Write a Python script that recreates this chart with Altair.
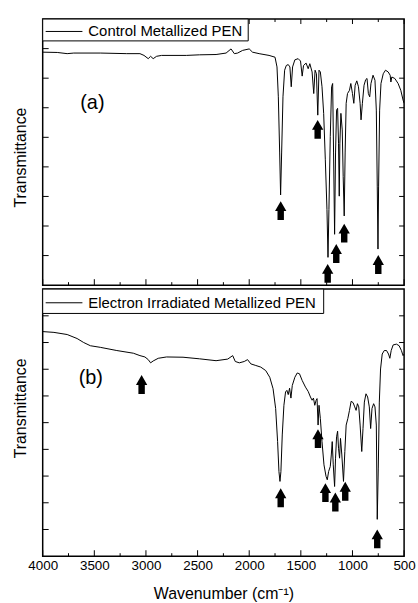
import altair as alt
import pandas as pd

# ---------------- data ----------------
wn_a = [4000, 3859, 3763, 3699, 3442, 3186, 3058, 3019, 2978, 2955, 2930, 2897, 2849, 2609, 2481,
        2321, 2224, 2176, 2144, 2112, 2064, 2000, 1968, 1904, 1808, 1750, 1731, 1718, 1705, 1696,
        1686, 1673, 1657, 1641, 1622, 1606, 1593, 1580, 1558, 1526, 1503, 1487, 1474, 1449, 1429,
        1413, 1391, 1375, 1362, 1349, 1336, 1324, 1311, 1295, 1279, 1263, 1247, 1237, 1228, 1215,
        1202, 1192, 1183, 1173, 1164, 1154, 1144, 1135, 1128, 1122, 1112, 1099, 1090, 1080, 1071,
        1061, 1048, 1029, 1016, 1000, 987, 974, 958, 942, 926, 917, 904, 888, 872, 859, 846, 833,
        821, 801, 782, 769, 760, 753, 747, 737, 724, 702, 680, 654, 635, 628, 619, 590, 558, 532,
        510, 500]
tr_a = [7.88, 7.87, 7.83, 7.85, 7.85, 7.83, 7.83, 7.77, 7.66, 7.74, 7.66, 7.74, 7.77, 7.77, 7.79,
        7.80, 7.85, 7.99, 7.83, 7.85, 7.94, 7.99, 7.88, 7.83, 7.77, 7.71, 7.38, 6.37, 4.47, 3.05,
        4.47, 6.37, 7.27, 7.43, 7.46, 7.38, 6.71, 7.38, 7.62, 7.66, 7.58, 7.07, 7.43, 7.51, 7.32,
        7.49, 7.21, 6.48, 7.27, 7.15, 5.75, 7.27, 7.21, 6.71, 5.81, 4.24, 2.56, 0.94, 2.56, 5.03,
        6.71, 6.82, 4.47, 1.72, 4.47, 5.92, 5.98, 4.80, 3.01, 4.80, 5.81, 5.25, 3.68, 2.34, 4.47,
        6.15, 6.48, 6.59, 6.82, 6.48, 6.15, 6.76, 6.91, 6.71, 6.15, 5.59, 6.15, 6.76, 6.95, 6.99,
        6.48, 6.37, 6.82, 7.10, 6.93, 5.92, 3.35, 1.22, 3.35, 5.92, 6.82, 7.15, 7.27, 7.21, 7.10,
        6.87, 7.04, 6.99, 6.82, 6.59, 6.26, 6.15]

wn_b = [4000, 3891, 3763, 3667, 3603, 3538, 3442, 3282, 3122, 3058, 3010, 2978, 2955, 2930, 2881,
        2801, 2641, 2481, 2321, 2208, 2160, 2135, 2096, 2048, 2016, 1984, 1936, 1888, 1840, 1801,
        1769, 1744, 1725, 1712, 1702, 1693, 1680, 1664, 1648, 1635, 1622, 1609, 1596, 1583, 1558,
        1535, 1513, 1487, 1455, 1429, 1407, 1391, 1378, 1365, 1352, 1343, 1333, 1324, 1311, 1295,
        1276, 1256, 1244, 1231, 1215, 1205, 1196, 1186, 1173, 1164, 1154, 1144, 1135, 1125, 1116,
        1103, 1087, 1074, 1061, 1045, 1029, 1013, 994, 978, 965, 952, 939, 926, 910, 898, 885,
        869, 853, 837, 824, 811, 795, 782, 769, 760, 750, 740, 728, 712, 692, 670, 651, 638, 625,
        606, 574, 548, 526, 510, 500]
tr_b = [8.41, 8.38, 8.30, 8.15, 8.00, 7.88, 7.82, 7.70, 7.60, 7.51, 7.46, 7.36, 7.24, 7.31, 7.41,
        7.46, 7.45, 7.39, 7.32, 7.38, 7.51, 7.29, 7.24, 7.29, 7.36, 7.20, 7.14, 7.08, 6.95, 6.70,
        6.27, 5.53, 4.29, 3.17, 2.80, 3.17, 4.54, 5.65, 6.15, 6.21, 6.05, 6.29, 5.92, 6.39, 6.70,
        6.86, 6.83, 6.58, 6.33, 6.17, 5.96, 5.84, 5.92, 5.65, 5.84, 5.90, 4.91, 5.65, 5.15, 4.29,
        3.42, 2.99, 2.86, 3.17, 3.36, 3.79, 4.29, 3.42, 2.61, 3.67, 4.47, 4.68, 4.04, 3.67, 4.41,
        3.79, 2.80, 3.92, 4.91, 5.15, 5.46, 5.80, 5.75, 5.59, 5.46, 5.71, 5.59, 4.91, 3.92, 4.78,
        5.77, 6.08, 5.96, 5.59, 4.78, 5.53, 5.71, 5.59, 4.91, 1.38, 3.30, 5.77, 7.01, 7.57, 7.70,
        7.70, 7.57, 7.41, 7.70, 7.91, 7.94, 7.88, 7.70, 7.51, 7.57]

arrow_wn_a = [1695, 1337, 1240, 1157, 1080, 750]
arrow_tr_a = [2.52, 5.27, 0.40, 1.07, 1.76, 0.70]
arrow_wn_b = [3042, 1695, 1334, 1262, 1166, 1070, 760]
arrow_tr_b = [6.43, 2.19, 4.40, 2.38, 2.03, 2.43, 0.65]

major_ticks = [4000, 3500, 3000, 2500, 2000, 1500, 1000, 500]
minor_ticks = [3750, 3250, 2750, 2250, 1750, 1250, 750]
y_ticks_a = [1, 2, 3, 4, 5, 6, 7, 8]
y_ticks_b = [1, 2, 3, 4, 5, 6, 7, 8, 9]

legend_a = "Control Metallized PEN"
legend_b = "Electron Irradiated Metallized PEN"
panel_label_a = "(a)"
panel_label_b = "(b)"
label_pos_a = [3519, 6.15]
label_pos_b = [3534, 6.67]

FONT = "Liberation Sans"
W = 364
ARROW = "M0,-1L0.6,0.05L0.34,0.05L0.34,1L-0.34,1L-0.34,0.05L-0.6,0.05Z"


def panel(wn, tr, awn, atr, ydom, yticks, legend, box_w, box_h, label, lpos, H,
          show_x, title_y, top_ticks):
    xs = alt.Scale(domain=[500, 4000], reverse=True, nice=False, zero=False)
    ys = alt.Scale(domain=ydom, nice=False, zero=False)
    if show_x:
        xaxis = alt.Axis(values=major_ticks, format="d", ticks=False, domain=False, grid=False,
                         labelFont=FONT, labelFontSize=13.5, labelColor="black", labelPadding=2,
                         title="Wavenumber (cm\u207b\u00b9)", titleFont=FONT, titleFontSize=16,
                         titleFontWeight="normal", titleColor="black", titlePadding=14,
                         labelFlush=False)
    else:
        xaxis = None
    yaxis = alt.Axis(title="Transmittance", ticks=False, labels=False, domain=False, grid=False,
                     titleFont=FONT, titleFontSize=16, titleFontWeight="normal",
                     titleColor="black", titlePadding=14.6, titleY=title_y)

    def X(f):
        return alt.X(f, scale=xs, axis=xaxis)

    def Y(f):
        return alt.Y(f, scale=ys, axis=yaxis)

    line = alt.Chart(pd.DataFrame({"wn": wn, "tr": tr})).mark_line(
        color="black", strokeWidth=1, clip=True
    ).encode(x=X("wn:Q"), y=Y("tr:Q"), order=alt.Order("wn:Q"))

    def xt(vals):
        return alt.Chart(pd.DataFrame({"wn": vals}))

    bot_major = xt(major_ticks).mark_rule(color="black", strokeWidth=1).encode(
        x=X("wn:Q"), y=alt.value(H), y2=alt.value(H - 6))
    bot_minor = xt(minor_ticks).mark_rule(color="black", strokeWidth=1).encode(
        x=X("wn:Q"), y=alt.value(H), y2=alt.value(H - 3))
    layers = [line, bot_major, bot_minor]
    if top_ticks:
        layers.append(xt(major_ticks).mark_rule(color="black", strokeWidth=1).encode(
            x=X("wn:Q"), y=alt.value(0), y2=alt.value(5)))
        layers.append(xt(minor_ticks).mark_rule(color="black", strokeWidth=1).encode(
            x=X("wn:Q"), y=alt.value(0), y2=alt.value(3)))
    ytk = alt.Chart(pd.DataFrame({"tr": yticks}))
    layers.append(ytk.mark_rule(color="black", strokeWidth=1).encode(
        y=Y("tr:Q"), x=alt.value(0), x2=alt.value(6)))
    layers.append(ytk.mark_rule(color="black", strokeWidth=1).encode(
        y=Y("tr:Q"), x=alt.value(W), x2=alt.value(W - 5)))

    arrows = alt.Chart(pd.DataFrame({"wn": awn, "tr": atr})).mark_point(
        shape=ARROW, filled=True, color="black", size=361, opacity=1, strokeWidth=0
    ).encode(x=X("wn:Q"), y=Y("tr:Q"))
    layers.append(arrows)

    lab = alt.Chart(pd.DataFrame({"wn": [lpos[0]], "tr": [lpos[1]], "t": [label]})).mark_text(
        font=FONT, fontSize=20, color="black", align="center", baseline="middle"
    ).encode(x=X("wn:Q"), y=Y("tr:Q"), text="t:N")
    layers.append(lab)

    leg = alt.Chart(pd.DataFrame({"t": [legend]}))
    layers.append(leg.mark_rect(fill="white", stroke="black", strokeWidth=1).encode(
        x=alt.value(0), x2=alt.value(box_w), y=alt.value(0), y2=alt.value(box_h)))
    layers.append(leg.mark_rule(color="black", strokeWidth=1).encode(
        x=alt.value(3), x2=alt.value(40), y=alt.value(box_h / 2 + 1.5)))
    layers.append(leg.mark_text(font=FONT, fontSize=15, color="black", align="left",
                                baseline="middle").encode(
        x=alt.value(46), y=alt.value(box_h / 2 + 1.5), text="t:N"))

    return alt.layer(*layers).properties(width=W, height=H)


pa = panel(wn_a, tr_a, arrow_wn_a, arrow_tr_a, [0, 9], y_ticks_a, legend_a, 207, 22,
           panel_label_a, label_pos_a, 268, False, 139, True)
pb = panel(wn_b, tr_b, arrow_wn_b, arrow_tr_b, [0, 10], y_ticks_b, legend_b, 283, 24.5,
           panel_label_b, label_pos_b, 269, True, 119.6, False)

chart = alt.vconcat(pa, pb, spacing=0).resolve_scale(y="independent").properties(
    padding={"left": 11, "top": 15, "right": 1, "bottom": 5},
    background="white",
).configure_view(stroke="black", strokeWidth=1.5)

chart.save("out.html", embed_options={"renderer": "svg", "actions": False})
